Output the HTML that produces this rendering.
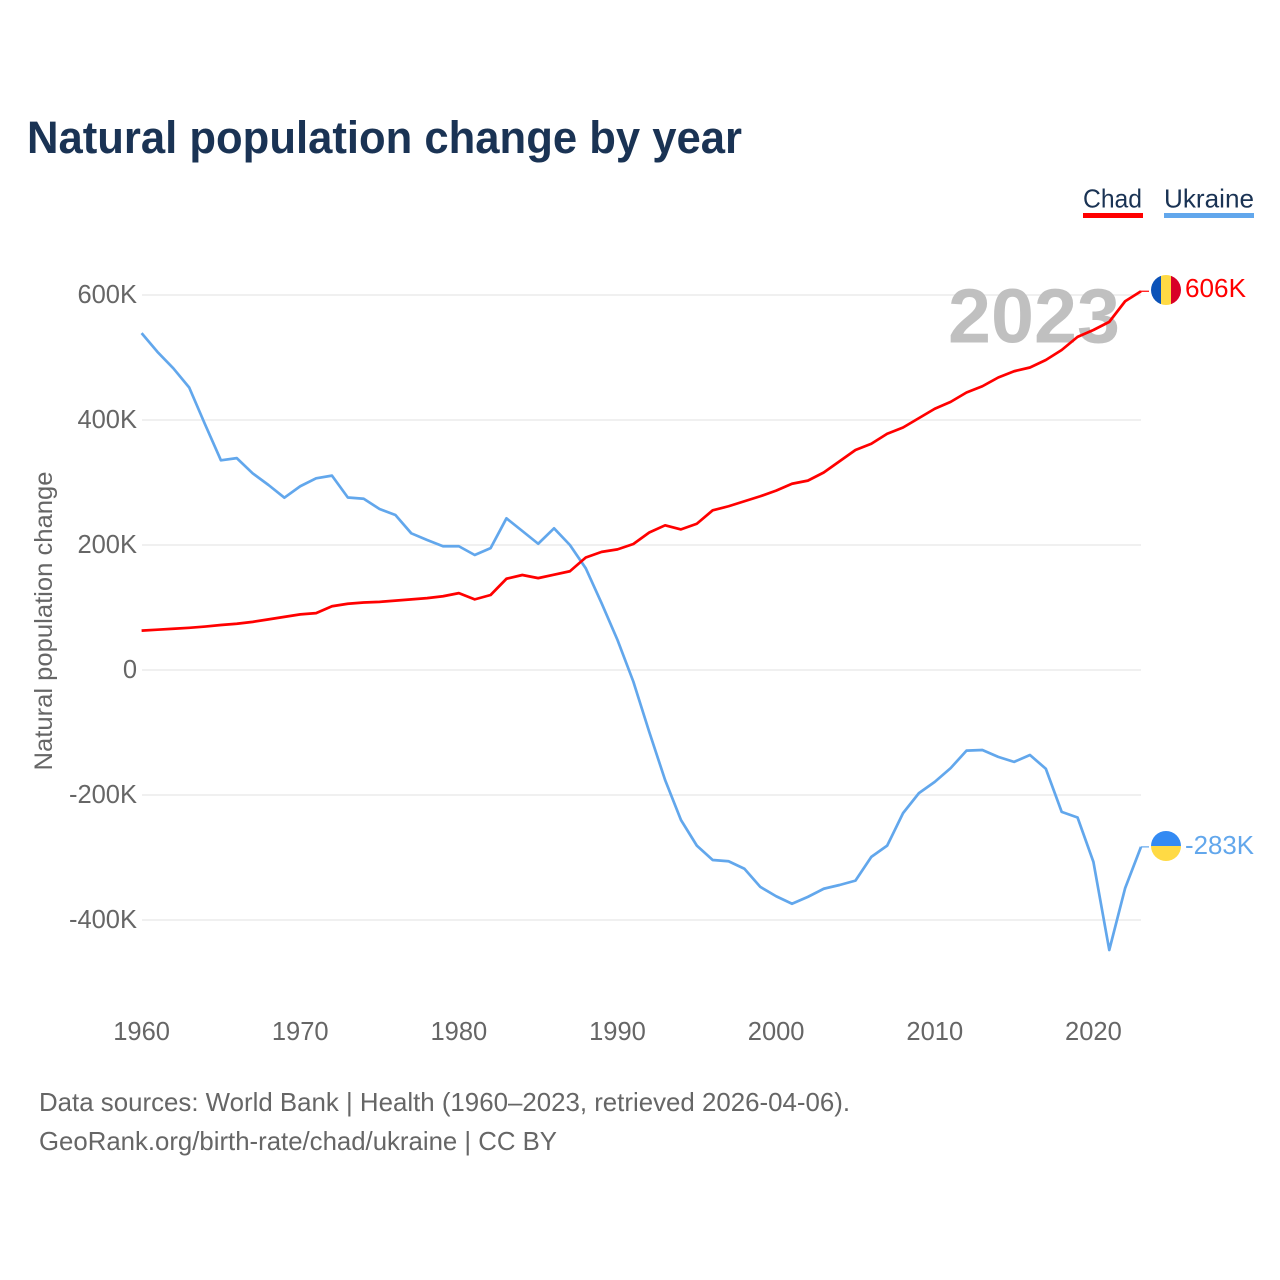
<!DOCTYPE html>
<html lang="en">
<head>
<meta charset="utf-8">
<title>Natural population change by year</title>
<style>
  html, body { margin: 0; padding: 0; background: #fff; }
  svg { display: block; font-family: "Liberation Sans", sans-serif; }
</style>
</head>
<body>
<svg id="chart" xmlns="http://www.w3.org/2000/svg" width="1280" height="1280" viewBox="0 0 1280 1280">
  <defs>
    <clipPath id="clip-chad"><circle cx="1166" cy="290" r="15"/></clipPath>
    <clipPath id="clip-ukraine"><circle cx="1166" cy="846" r="15"/></clipPath>
  </defs>
  <rect width="1280" height="1280" fill="#fff"/>

  <text x="27" y="153" font-size="45" font-weight="700" fill="#1a3354" textLength="715" lengthAdjust="spacingAndGlyphs">Natural population change by year</text>

  <g>
    <g>
      <text x="1083" y="207.5" font-size="26" fill="#1a3354" textLength="59" lengthAdjust="spacingAndGlyphs">Chad</text>
      <rect x="1083" y="213" width="60" height="5" fill="#ff0000"/>
    </g>
    <g>
      <text x="1164" y="207.5" font-size="26" fill="#1a3354" textLength="90" lengthAdjust="spacingAndGlyphs">Ukraine</text>
      <rect x="1164" y="213" width="90" height="5" fill="#62a7ec"/>
    </g>
  </g>

  <g id="grid"></g>
  <g id="y-ticks"></g>
  <g id="x-ticks"></g>

  <text x="0" y="0" transform="translate(52,621) rotate(-90)" text-anchor="middle" font-size="25" fill="#666" textLength="299" lengthAdjust="spacingAndGlyphs">Natural population change</text>

  <text x="948" y="342.5" font-size="77" font-weight="700" fill="#c0c0c0" textLength="172" lengthAdjust="spacingAndGlyphs">2023</text>

  <g id="series"></g>

  <g clip-path="url(#clip-chad)">
    <rect x="1151" y="275" width="10" height="30" fill="#0b52b8"/>
    <rect x="1161" y="275" width="10" height="30" fill="#ffda44"/>
    <rect x="1171" y="275" width="10" height="30" fill="#d80027"/>
  </g>
  <g clip-path="url(#clip-ukraine)">
    <rect x="1151" y="831" width="30" height="15" fill="#338af3"/>
    <rect x="1151" y="846" width="30" height="15" fill="#ffda44"/>
  </g>
  <text id="label-chad" x="1185" y="297" font-size="25.5" fill="#ff0000" textLength="61" lengthAdjust="spacingAndGlyphs"></text>
  <text id="label-ukraine" x="1185" y="854" font-size="25.5" fill="#62a7ec" textLength="69" lengthAdjust="spacingAndGlyphs"></text>

  <g>
    <text x="39" y="1111" font-size="26" fill="#666" textLength="811" lengthAdjust="spacingAndGlyphs">Data sources: World Bank | Health (1960–2023, retrieved 2026-04-06).</text>
    <text x="39" y="1150" font-size="26" fill="#666" textLength="518" lengthAdjust="spacingAndGlyphs">GeoRank.org/birth-rate/chad/ukraine | CC BY</text>
  </g>
</svg>
<script>
const startYear = 1960;
const endYear = 2023;
const chadValues = [63,64.5,66,67.5,69.5,72,74,77,81,85,89,91,102,106,108,109,111,113,115,118,123,113,120,146,152,147,152.5,158,180,189,193,201.6,220,231.5,225,234,255.5,262,270,278,287,298,303,316,334,352,362,378,388,403,418,429,444,454,468,478,484,496,512,533,544,557,590,606];
const ukraineValues = [539,509,482.7,452,393,335.5,339,314.7,296,275.7,294,306.7,311,276,274,257.6,248,218.7,208,198,198,184,195,242.7,222.4,202,226.7,200,162.7,106.7,48,-18.7,-99,-176,-240,-281,-304,-306,-318,-347,-362,-374,-363,-350,-344,-337,-299,-281,-229,-197,-179,-157,-129,-128,-139,-147,-136,-158,-227,-236,-307,-448,-349,-283];
const yTickValues = [600,400,200,0,-200,-400];
const yTickLabels = ['600K','400K','200K','0','-200K','-400K'];
const xTickYears = [1960,1970,1980,1990,2000,2010,2020];
const chadEndLabel = '606K';
const ukraineEndLabel = '-283K';

const SVG_NS = 'http://www.w3.org/2000/svg';
function xScale(year) { return 141.6 + (year - startYear) * (1141 - 141.6) / (endYear - startYear); }
function yScale(v) { return 670 - v * 0.625; }

const gridGroup = document.getElementById('grid');
const yTickGroup = document.getElementById('y-ticks');
const xTickGroup = document.getElementById('x-ticks');
const seriesGroup = document.getElementById('series');

yTickValues.forEach(function (v, i) {
  const line = document.createElementNS(SVG_NS, 'line');
  line.setAttribute('x1', 142);
  line.setAttribute('x2', 1141);
  line.setAttribute('y1', yScale(v));
  line.setAttribute('y2', yScale(v));
  line.setAttribute('stroke', '#e6e6e6');
  line.setAttribute('stroke-width', 1.3);
  
  
  gridGroup.appendChild(line);

  const label = document.createElementNS(SVG_NS, 'text');
  label.setAttribute('x', 137);
  label.setAttribute('y', yScale(v) + 8);
  label.setAttribute('text-anchor', 'end');
  label.setAttribute('font-size', 25.5);
  label.setAttribute('fill', '#666');
  label.textContent = yTickLabels[i];
  
  
  yTickGroup.appendChild(label);
});

xTickYears.forEach(function (year) {
  const label = document.createElementNS(SVG_NS, 'text');
  label.setAttribute('x', xScale(year));
  label.setAttribute('y', 1040);
  label.setAttribute('text-anchor', 'middle');
  label.setAttribute('font-size', 25.5);
  label.setAttribute('fill', '#666');
  label.textContent = String(year);
  
  
  xTickGroup.appendChild(label);
});

function pointsFor(values) {
  return values.map(function (v, i) {
    return xScale(startYear + i).toFixed(2) + ',' + yScale(v).toFixed(2);
  }).join(' ');
}

const ukraineLine = document.createElementNS(SVG_NS, 'polyline');
ukraineLine.setAttribute('points', pointsFor(ukraineValues));
ukraineLine.setAttribute('fill', 'none');
ukraineLine.setAttribute('stroke', '#62a7ec');
ukraineLine.setAttribute('stroke-width', 2.7);
ukraineLine.setAttribute('stroke-linejoin', 'round');


seriesGroup.appendChild(ukraineLine);

const chadLine = document.createElementNS(SVG_NS, 'polyline');
chadLine.setAttribute('points', pointsFor(chadValues));
chadLine.setAttribute('fill', 'none');
chadLine.setAttribute('stroke', '#ff0000');
chadLine.setAttribute('stroke-width', 2.7);
chadLine.setAttribute('stroke-linejoin', 'round');


seriesGroup.appendChild(chadLine);

const chadStub = document.createElementNS(SVG_NS, 'line');
chadStub.setAttribute('x1', xScale(endYear));
chadStub.setAttribute('x2', 1149);
chadStub.setAttribute('y1', yScale(chadValues[chadValues.length - 1]));
chadStub.setAttribute('y2', yScale(chadValues[chadValues.length - 1]));
chadStub.setAttribute('stroke', '#ff0000');
chadStub.setAttribute('stroke-width', 1.2);


seriesGroup.appendChild(chadStub);

const ukraineStub = document.createElementNS(SVG_NS, 'line');
ukraineStub.setAttribute('x1', xScale(endYear));
ukraineStub.setAttribute('x2', 1149);
ukraineStub.setAttribute('y1', yScale(ukraineValues[ukraineValues.length - 1]));
ukraineStub.setAttribute('y2', yScale(ukraineValues[ukraineValues.length - 1]));
ukraineStub.setAttribute('stroke', '#62a7ec');
ukraineStub.setAttribute('stroke-width', 1.2);


seriesGroup.appendChild(ukraineStub);

document.getElementById('label-chad').textContent = chadEndLabel;
document.getElementById('label-ukraine').textContent = ukraineEndLabel;
</script>
</body>
</html>
